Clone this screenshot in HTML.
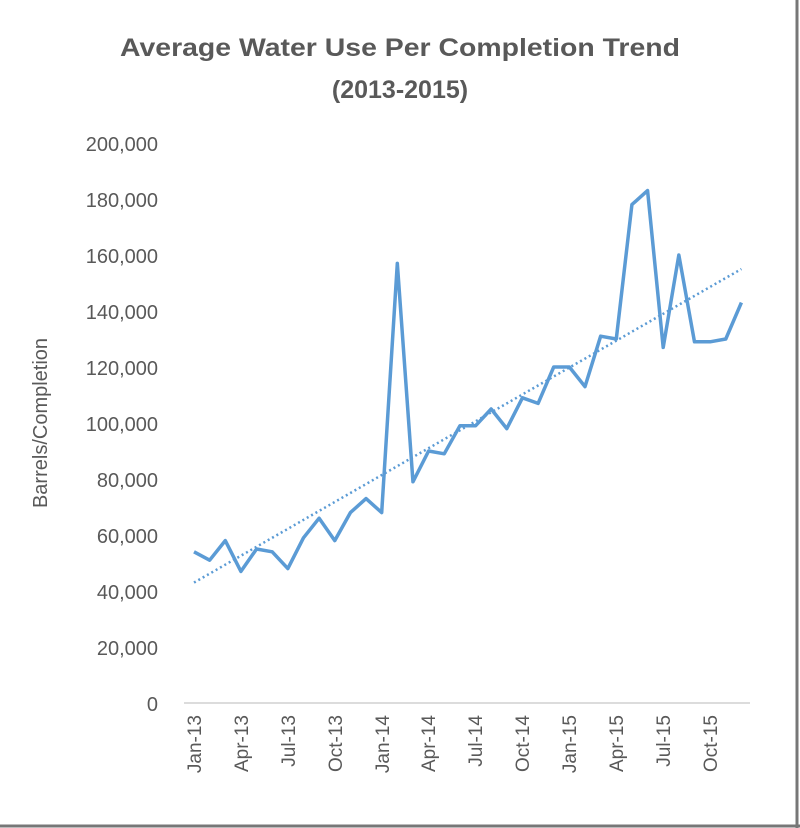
<!DOCTYPE html>
<html><head><meta charset="utf-8"><style>
html,body{margin:0;padding:0;background:#fff;}
svg{display:block;}
text{font-family:"Liberation Sans",sans-serif;fill:#595959;}
</style></head><body>
<svg width="800" height="828" viewBox="0 0 800 828" xmlns="http://www.w3.org/2000/svg">
<rect x="0" y="0" width="800" height="828" fill="#fff"/>
<line x1="797" y1="0" x2="797" y2="828" stroke="#777" stroke-width="3"/>
<line x1="0" y1="826" x2="800" y2="826" stroke="#777" stroke-width="3"/>
<text x="400" y="56" font-size="25" font-weight="600" text-anchor="middle" textLength="560" lengthAdjust="spacingAndGlyphs">Average Water Use Per Completion Trend</text>
<text x="400" y="98" font-size="25" font-weight="600" text-anchor="middle">(2013-2015)</text>
<g font-size="20" text-anchor="end">
<text x="158" y="151">200,000</text>
<text x="158" y="207">180,000</text>
<text x="158" y="263">160,000</text>
<text x="158" y="319">140,000</text>
<text x="158" y="375">120,000</text>
<text x="158" y="431">100,000</text>
<text x="158" y="487">80,000</text>
<text x="158" y="543">60,000</text>
<text x="158" y="599">40,000</text>
<text x="158" y="655">20,000</text>
<text x="158" y="711">0</text>
</g>
<text transform="translate(47,423) rotate(-90)" font-size="20" text-anchor="middle">Barrels/Completion</text>
<line x1="184" y1="703" x2="750" y2="703" stroke="#d0d0d0" stroke-width="1.5"/>
<g font-size="19" text-anchor="end">
<text transform="translate(201,715) rotate(-90)">Jan-13</text>
<text transform="translate(248,715) rotate(-90)">Apr-13</text>
<text transform="translate(295,715) rotate(-90)">Jul-13</text>
<text transform="translate(342,715) rotate(-90)">Oct-13</text>
<text transform="translate(389,715) rotate(-90)">Jan-14</text>
<text transform="translate(435,715) rotate(-90)">Apr-14</text>
<text transform="translate(482,715) rotate(-90)">Jul-14</text>
<text transform="translate(529,715) rotate(-90)">Oct-14</text>
<text transform="translate(576,715) rotate(-90)">Jan-15</text>
<text transform="translate(623,715) rotate(-90)">Apr-15</text>
<text transform="translate(670,715) rotate(-90)">Jul-15</text>
<text transform="translate(717,715) rotate(-90)">Oct-15</text>
</g>
<g transform="translate(194,703) scale(15.64,-0.0028)">
<line x1="0" y1="43000" x2="35" y2="155000" stroke="#5b9bd5" stroke-width="2.5" stroke-dasharray="2,3" vector-effect="non-scaling-stroke"/>
<polyline fill="none" stroke="#5b9bd5" stroke-width="3.5" stroke-linejoin="round" vector-effect="non-scaling-stroke" points="0,54000 1,51000 2,58000 3,47000 4,55000 5,54000 6,48000 7,59000 8,66000 9,58000 10,68000 11,73000 12,68000 13,157000 14,79000 15,90000 16,89000 17,99000 18,99000 19,105000 20,98000 21,109000 22,107000 23,120000 24,120000 25,113000 26,131000 27,130000 28,178000 29,183000 30,127000 31,160000 32,129000 33,129000 34,130000 35,143000"/>
</g>
</svg>
</body></html>
